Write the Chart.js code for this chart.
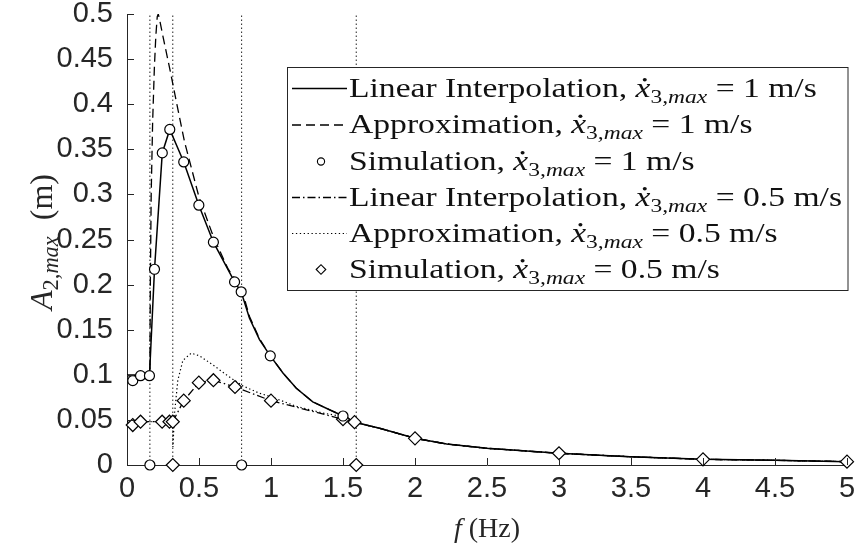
<!DOCTYPE html>
<html>
<head>
<meta charset="utf-8">
<script src="https://cdn.jsdelivr.net/npm/chart.js@4.4.1/dist/chart.umd.min.js"></script>
<style>
  html, body { margin: 0; padding: 0; background: #fff; }
  #wrap { width: 856px; height: 556px; }
</style>
</head>
<body>
<div id="wrap"><canvas id="chart" width="856" height="556"></canvas></div>
<script>
// Données (f en Hz, amplitude en m)
const linFreq1 = [0, 0.094, 0.156, 0.191, 0.245, 0.297, 0.394, 0.499, 0.6, 0.747, 0.793, 0.85, 0.92, 0.995, 1.083, 1.176, 1.29, 1.41, 1.5, 1.59, 1.755, 2.0, 2.22, 2.5, 3.0, 3.49, 4.0, 4.5, 5.0];
const linAmp1  = [0.099, 0.099, 0.099, 0.217, 0.346, 0.372, 0.336, 0.288, 0.247, 0.203, 0.192, 0.163, 0.139, 0.121, 0.102, 0.085, 0.070, 0.061, 0.0543, 0.047, 0.0407, 0.0296, 0.0233, 0.0185, 0.013, 0.0092, 0.0063, 0.0052, 0.0037];

const approxFreq1 = [0, 0.159, 0.162, 0.168, 0.178, 0.19, 0.2, 0.21, 0.217, 0.225, 0.25, 0.3, 0.35, 0.4, 0.5, 0.6, 0.7, 0.8, 0.85, 0.92, 0.995, 1.083, 1.176, 1.29, 1.41, 1.5, 1.59, 1.755, 2.0, 2.22, 2.5, 3.0, 3.49, 4.0, 4.5, 5.0];
const approxAmp1  = [0.1, 0.1, 0.2, 0.3, 0.38, 0.44, 0.475, 0.497, 0.5, 0.495, 0.475, 0.437, 0.397, 0.358, 0.297, 0.253, 0.218, 0.193, 0.165, 0.14, 0.121, 0.102, 0.085, 0.070, 0.061, 0.0543, 0.047, 0.0407, 0.0296, 0.0233, 0.0185, 0.013, 0.0092, 0.0063, 0.0052, 0.0037];

const simFreq1 = [0.04, 0.094, 0.156, 0.191, 0.245, 0.297, 0.394, 0.499, 0.6, 0.747, 0.793, 0.995, 1.5];
const simAmp1  = [0.0935, 0.099, 0.099, 0.217, 0.346, 0.372, 0.336, 0.288, 0.247, 0.203, 0.192, 0.121, 0.0543];

const linFreq05 = [0, 0.04, 0.094, 0.244, 0.295, 0.318, 0.394, 0.499, 0.6, 0.75, 1.0, 1.5, 1.58, 1.755, 2.0, 2.22, 2.5, 3.0, 3.49, 4.0, 4.5, 5.0];
const linAmp05  = [0.046, 0.0443, 0.048, 0.048, 0.048, 0.048, 0.0713, 0.0913, 0.094, 0.0865, 0.0713, 0.0507, 0.0475, 0.0407, 0.0296, 0.0233, 0.0185, 0.013, 0.0092, 0.0063, 0.0052, 0.0037];

const approxFreq05 = [0, 0.318, 0.319, 0.33, 0.353, 0.388, 0.446, 0.504, 0.596, 0.69, 0.8, 0.92, 1.0, 1.176, 1.36, 1.5, 1.6, 1.755, 2.0, 2.22, 2.5, 3.0, 3.49, 4.0, 4.5, 5.0];
const approxAmp05  = [0.048, 0.048, 0.02, 0.057, 0.094, 0.116, 0.124, 0.121, 0.111, 0.1, 0.088, 0.0795, 0.0757, 0.065, 0.0576, 0.0536, 0.047, 0.0407, 0.0296, 0.0233, 0.0185, 0.013, 0.0092, 0.0063, 0.0052, 0.0037];

const simFreq05 = [0.04, 0.094, 0.244, 0.295, 0.318, 0.394, 0.499, 0.6, 0.75, 1.0, 1.5, 1.58, 2.0, 3.0, 4.0, 5.0];
const simAmp05  = [0.0443, 0.048, 0.048, 0.048, 0.048, 0.0713, 0.0913, 0.094, 0.0865, 0.0713, 0.0507, 0.0475, 0.0296, 0.013, 0.0063, 0.0037];

// fréquences de référence (lignes verticales pointillées) et marqueurs à zéro
const refFreq = [0.159, 0.318, 0.796, 1.592];
const zeroCircleFreq = [0.159, 0.796];
const zeroDiamondFreq = [0.318, 1.592];

const xTicks = [0, 0.5, 1, 1.5, 2, 2.5, 3, 3.5, 4, 4.5, 5];
const xTickLabels = ['0', '0.5', '1', '1.5', '2', '2.5', '3', '3.5', '4', '4.5', '5'];
const yTicks = [0, 0.05, 0.1, 0.15, 0.2, 0.25, 0.3, 0.35, 0.4, 0.45, 0.5];
const yTickLabels = ['0', '0.05', '0.1', '0.15', '0.2', '0.25', '0.3', '0.35', '0.4', '0.45', '0.5'];

const legendNames = ['Linear Interpolation', 'Approximation', 'Simulation', 'Linear Interpolation', 'Approximation', 'Simulation'];
const legendSpeeds = ['1', '1', '1', '0.5', '0.5', '0.5'];

const INK = '#262626';
const SANS = '"Liberation Sans", Arial, sans-serif';
const SERIF = '"Liberation Serif", "Times New Roman", serif';

function pts(xs, ys) {
    return xs.map((x, i) => ({ x: x, y: ys[i] }));
}

// lignes verticales : un segment par fréquence, séparés par un trou
const refPoints = [];
refFreq.forEach(f => {
    refPoints.push({ x: f, y: 0 }, { x: f, y: 0.5 }, { x: f, y: null });
});

function lineSet(label, xs, ys, dash, width, row) {
    return {
        label: label, data: pts(xs, ys), showLine: true, borderColor: '#000',
        borderWidth: width, borderDash: dash, pointRadius: 0, fill: false,
        tension: 0, order: 5, legendRow: row
    };
}
function markerSet(label, xs, ys, style, radius, row) {
    return {
        label: label, data: pts(xs, ys), showLine: false, pointStyle: style,
        pointRadius: radius, pointBorderWidth: 1.2, pointBorderColor: '#000',
        pointBackgroundColor: '#fff', order: 1, clip: false, legendRow: row
    };
}

const datasets = [
    {
        label: 'ref', data: refPoints, showLine: true, spanGaps: false, borderColor: '#222',
        borderWidth: 1, borderDash: [1.5, 2.5], pointRadius: 0, order: 10
    },
    lineSet(legendNames[0], linFreq1, linAmp1, [], 1.5, 0),
    lineSet(legendNames[1], approxFreq1, approxAmp1, [9, 5], 1.3, 1),
    lineSet(legendNames[3], linFreq05, linAmp05, [8, 3, 1.5, 3], 1.3, 3),
    lineSet(legendNames[4], approxFreq05, approxAmp05, [1.3, 2.6], 1.2, 4),
    markerSet(legendNames[2], simFreq1, simAmp1, 'circle', 5, 2),
    markerSet(legendNames[5], simFreq05, simAmp05, 'rectRot', 6.5, 5),
    markerSet('zero1', zeroCircleFreq, zeroCircleFreq.map(() => 0), 'circle', 5, undefined),
    markerSet('zero05', zeroDiamondFreq, zeroDiamondFreq.map(() => 0), 'rectRot', 6.5, undefined)
];

// texte avec indices et point (x point), étiré horizontalement de sx
function drawRuns(ctx, runs, x, y, draw, sx) {
    sx = sx || 1;
    let cx = 0;
    if (draw) {
        ctx.save();
        ctx.translate(x, y);
        ctx.scale(sx, 1);
    }
    runs.forEach(r => {
        ctx.font = r.font;
        const w = ctx.measureText(r.text).width;
        if (draw) {
            ctx.fillText(r.text, cx, r.dy || 0);
            if (r.dot) {
                ctx.beginPath();
                ctx.arc(cx + w * 0.62, -r.size * 0.6, r.size * 0.06, 0, Math.PI * 2);
                ctx.fill();
            }
        }
        cx += w;
    });
    if (draw) ctx.restore();
    return cx * sx;
}

function legendRuns(name, speed, size) {
    const sub = size * 0.7;
    return [
        { text: name + ', ', font: size + 'px ' + SERIF },
        { text: 'x', font: 'italic ' + size + 'px ' + SERIF, dot: true, size: size },
        { text: '3', font: sub + 'px ' + SERIF, dy: size * 0.22 },
        { text: ',max', font: 'italic ' + sub + 'px ' + SERIF, dy: size * 0.22 },
        { text: ' = ' + speed + ' m/s', font: size + 'px ' + SERIF }
    ];
}

const decorPlugin = {
    id: 'decor',
    afterDraw(chart) {
        const ctx = chart.ctx;
        const xs = chart.scales.x, ys = chart.scales.y;
        const area = chart.chartArea;
        ctx.save();
        // graduations vers l'intérieur
        ctx.strokeStyle = INK;
        ctx.lineWidth = 1;
        ctx.beginPath();
        xTicks.forEach(v => {
            const px = Math.round(xs.getPixelForValue(v)) + 0.5;
            ctx.moveTo(px, area.bottom);
            ctx.lineTo(px, area.bottom - 7);
        });
        yTicks.forEach(v => {
            const py = Math.round(ys.getPixelForValue(v)) + 0.5;
            ctx.moveTo(area.left, py);
            ctx.lineTo(area.left + 7, py);
        });
        ctx.stroke();

        // titres des axes
        ctx.fillStyle = INK;
        ctx.textBaseline = 'alphabetic';
        const tsize = 28;
        const xRuns = [
            { text: 'f', font: 'italic ' + tsize + 'px ' + SERIF },
            { text: ' (Hz)', font: tsize + 'px ' + SERIF }
        ];
        const xw = drawRuns(ctx, xRuns, 0, 0, false);
        drawRuns(ctx, xRuns, (area.left + area.right) / 2 - xw / 2, 537, true);

        const ysize = 32;
        const yRuns = [
            { text: 'A', font: 'italic ' + ysize + 'px ' + SERIF },
            { text: '2', font: (ysize * 0.7) + 'px ' + SERIF, dy: 6 },
            { text: ',max', font: 'italic ' + (ysize * 0.7) + 'px ' + SERIF, dy: 6 },
            { text: '  (m)', font: ysize + 'px ' + SERIF }
        ];
        const yw = drawRuns(ctx, yRuns, 0, 0, false);
        ctx.save();
        ctx.translate(52, 242);
        ctx.rotate(-Math.PI / 2);
        drawRuns(ctx, yRuns, -yw / 2, 0, true);
        ctx.restore();

        // légende
        const box = { left: 287.5, top: 67.5, right: 848, bottom: 290.5 };
        ctx.fillStyle = '#fff';
        ctx.fillRect(box.left, box.top, box.right - box.left, box.bottom - box.top);
        ctx.strokeStyle = INK;
        ctx.lineWidth = 1;
        ctx.strokeRect(box.left, box.top, box.right - box.left, box.bottom - box.top);

        // police de 28 px, étirée pour que la ligne la plus longue fasse ~493 px
        const size = 28;
        const widest = drawRuns(ctx, legendRuns(legendNames[3], legendSpeeds[3], size), 0, 0, false);
        const stretch = 493 / widest;

        const rowY = [88.5, 125, 161.5, 197.5, 233.5, 269.5];
        chart.data.datasets.forEach(ds => {
            if (ds.legendRow === undefined) return;
            const row = ds.legendRow;
            const cy = rowY[row];
            ctx.strokeStyle = '#000';
            if (ds.showLine) {
                ctx.lineWidth = ds.borderWidth;
                ctx.setLineDash(ds.borderDash);
                ctx.beginPath();
                ctx.moveTo(292, cy);
                ctx.lineTo(347, cy);
                ctx.stroke();
                ctx.setLineDash([]);
            } else {
                ctx.fillStyle = '#fff';
                ctx.lineWidth = 1.1;
                Chart.helpers.drawPoint(ctx, {
                    pointStyle: ds.pointStyle, radius: ds.pointStyle === 'circle' ? 3.6 : 4.8,
                    rotation: 0, borderWidth: 1.1
                }, 321, cy);
            }
            ctx.fillStyle = '#111';
            drawRuns(ctx, legendRuns(legendNames[row], legendSpeeds[row], size), 349, cy + 8, true, stretch);
        });
        ctx.restore();
    }
};

const chart = new Chart(document.getElementById('chart').getContext('2d'), {
    type: 'scatter',
    data: { datasets: datasets },
    options: {
        responsive: false,
        animation: false,
        layout: { padding: { top: 14, right: 9, left: 0, bottom: 0 } },
        plugins: { legend: { display: false }, tooltip: { enabled: false } },
        scales: {
            x: {
                type: 'linear', min: 0, max: 5,
                afterFit: s => { s.height = 91; s.paddingLeft = 0; s.paddingRight = 0; },
                afterBuildTicks: s => { s.ticks = xTicks.map(v => ({ value: v })); },
                ticks: {
                    callback: (v, i) => xTickLabels[i], autoSkip: false, maxRotation: 0,
                    font: { family: SANS, size: 29 }, color: INK, padding: 7
                },
                grid: { drawOnChartArea: false, drawTicks: false },
                border: { display: true, color: INK, width: 1 }
            },
            y: {
                type: 'linear', min: 0, max: 0.5,
                afterFit: s => { s.width = 127; s.paddingTop = 0; s.paddingBottom = 0; },
                afterBuildTicks: s => { s.ticks = yTicks.map(v => ({ value: v })); },
                ticks: {
                    callback: (v, i) => yTickLabels[i], autoSkip: false,
                    font: { family: SANS, size: 29 }, color: INK, padding: 14
                },
                grid: { drawOnChartArea: false, drawTicks: false },
                border: { display: true, color: INK, width: 1 }
            }
        }
    },
    plugins: [decorPlugin]
});
</script>
</body>
</html>
